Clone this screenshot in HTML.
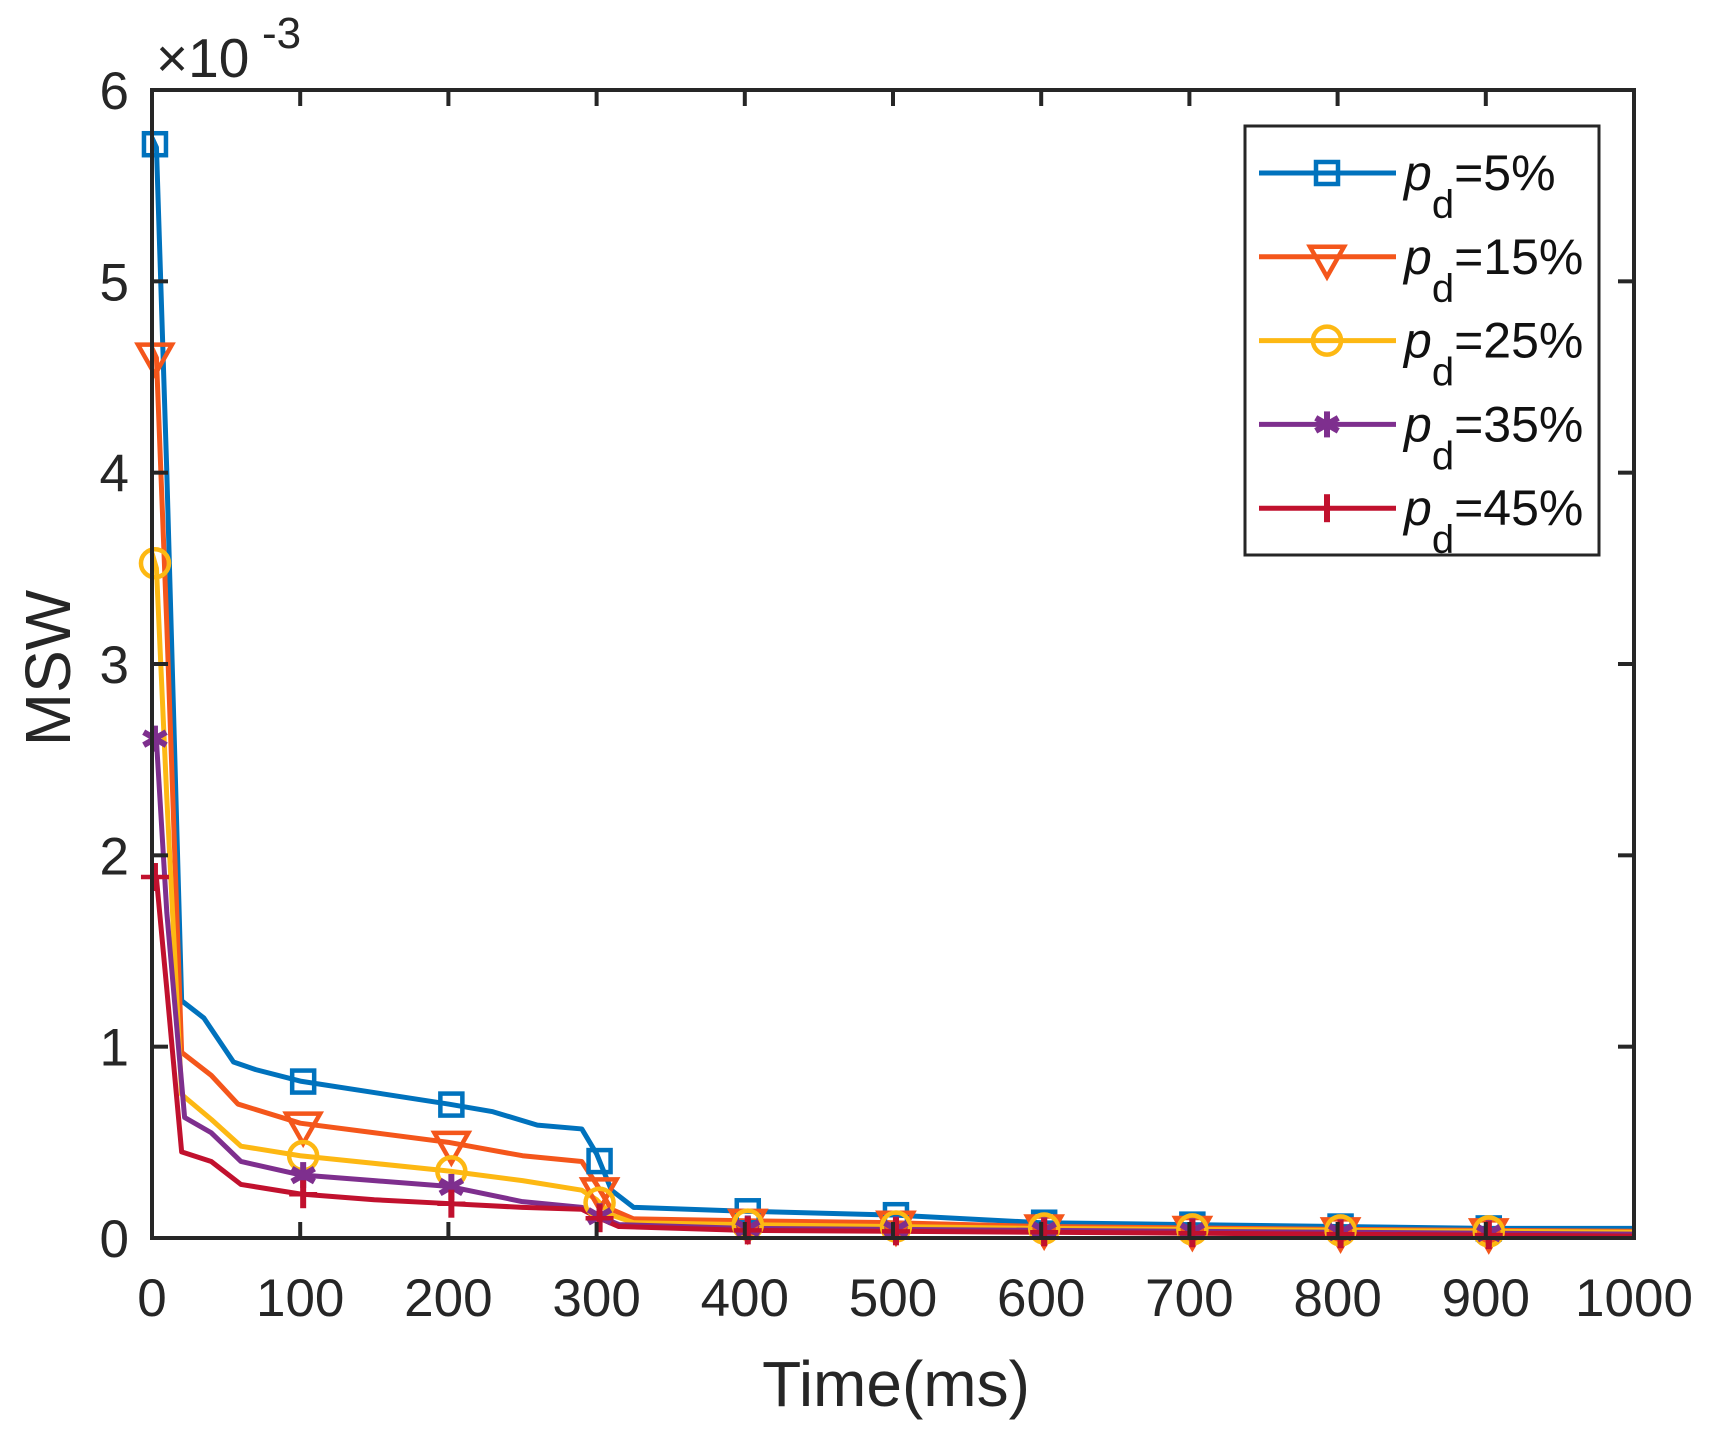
<!DOCTYPE html>
<html><head><meta charset="utf-8"><style>
html,body{margin:0;padding:0;background:#fff;}
svg{display:block;font-family:"Liberation Sans",Arial,sans-serif;}
</style></head><body>
<svg id="s" width="1709" height="1431" viewBox="0 0 1709 1431" xmlns="http://www.w3.org/2000/svg">
<rect width="1709" height="1431" fill="#fff"/>
<g id="plot"></g>
<g id="axes" fill="none" stroke="#262626" stroke-width="4"></g>
<g id="labels" fill="#262626" font-size="53"></g>
<text x="156" y="77" font-size="55" fill="#262626">×10</text>
<text x="262" y="48" font-size="44" fill="#262626">-3</text>
<text x="896" y="1406" font-size="64" fill="#262626" text-anchor="middle">Time(ms)</text>
<text transform="translate(70,668) rotate(-90)" font-size="64" fill="#262626" text-anchor="middle">MSW</text>
<rect x="1245" y="126" width="354" height="429" fill="#fff" stroke="#262626" stroke-width="3"/>
<g id="leg"></g>
</svg>
<script>
const L=152,R=1634,T=90,B=1238;
const X=v=>L+(R-L)*v/1000, Y=v=>B-(B-T)*v/6;
const ns="http://www.w3.org/2000/svg";
function el(t,a,p){const e=document.createElementNS(ns,t);for(const k in a)e.setAttribute(k,a[k]);(p||document.getElementById('plot')).appendChild(e);return e;}
const series=[
 {c:"#0072BD",m:"sq",d:[[0,5.75],[3,5.7],[10,4.0],[20,1.24],[35,1.15],[55,0.92],[70,0.88],[100,0.82],[150,0.76],[200,0.70],[230,0.66],[260,0.59],[290,0.57],[300,0.44],[310,0.25],[325,0.16],[400,0.14],[500,0.12],[600,0.08],[700,0.07],[800,0.06],[900,0.05],[1000,0.05]]},
 {c:"#F4561B",m:"tri",d:[[0,4.65],[3,4.6],[10,3.2],[20,0.97],[40,0.85],[58,0.70],[100,0.60],[150,0.55],[200,0.50],[250,0.43],[290,0.40],[300,0.28],[310,0.15],[325,0.10],[400,0.09],[500,0.08],[600,0.06],[800,0.045],[1000,0.035]]},
 {c:"#FDB813",m:"circ",d:[[0,3.58],[3,3.5],[10,2.3],[20,0.75],[40,0.62],[60,0.48],[100,0.43],[150,0.39],[200,0.35],[250,0.30],[290,0.25],[300,0.20],[310,0.12],[325,0.08],[400,0.07],[600,0.05],[1000,0.03]]},
 {c:"#7E2F8E",m:"star",d:[[0,2.63],[3,2.6],[10,1.7],[22,0.63],[40,0.55],[60,0.40],[100,0.33],[150,0.30],[200,0.27],[250,0.19],[290,0.16],[300,0.12],[315,0.07],[400,0.05],[600,0.04],[1000,0.02]]},
 {c:"#C1112E",m:"plus",d:[[0,1.9],[3,1.88],[10,1.3],[20,0.45],[40,0.40],[60,0.28],[100,0.23],[150,0.20],[200,0.18],[250,0.16],[290,0.15],[300,0.11],[315,0.06],[400,0.04],[600,0.03],[1000,0.01]]}
];
function interp(d,x){for(let i=0;i<d.length-1;i++){if(x>=d[i][0]&&x<=d[i+1][0]){const t=(x-d[i][0])/(d[i+1][0]-d[i][0]);return d[i][1]+t*(d[i+1][1]-d[i][1]);}}return d[d.length-1][1];}
function marker(m,cx,cy,c,g){
 const w=4.5;
 if(m=="sq")el("rect",{x:cx-11,y:cy-11,width:22,height:22,fill:"none",stroke:c,"stroke-width":w},g);
 if(m=="tri")el("polygon",{points:`${cx-17},${cy-10} ${cx+17},${cy-10} ${cx},${cy+20}`,fill:"none",stroke:c,"stroke-width":w},g);
 if(m=="circ")el("circle",{cx:cx,cy:cy,r:14,fill:"none",stroke:c,"stroke-width":w},g);
 if(m=="star"){for(const a of [0,60,120])el("line",{x1:cx,y1:cy-13,x2:cx,y2:cy+13,stroke:c,"stroke-width":6,transform:`rotate(${a} ${cx} ${cy})`},g);}
 if(m=="plus"){el("line",{x1:cx,y1:cy-14,x2:cx,y2:cy+14,stroke:c,"stroke-width":6},g);el("line",{x1:cx-14,y1:cy,x2:cx+14,y2:cy,stroke:c,"stroke-width":4.5},g);}
}
const plot=document.getElementById('plot');
series.forEach(s=>{
 el("polyline",{points:s.d.map(p=>X(p[0])+","+Y(p[1])).join(" "),fill:"none",stroke:s.c,"stroke-width":5,"stroke-linejoin":"round"});
});
series.forEach(s=>{
 for(let x=0;x<=900;x+=100){const xx=x==0?2:x+2;marker(s.m,X(xx),Y(interp(s.d,xx)),s.c,plot);}
});
const ax=document.getElementById('axes');
el("rect",{x:L,y:T,width:R-L,height:B-T},ax);
const lab=document.getElementById('labels');
for(let i=0;i<=10;i++){const x=X(i*100);
 if(i>0&&i<10){el("line",{x1:x,y1:B,x2:x,y2:B-16},ax);el("line",{x1:x,y1:T,x2:x,y2:T+16},ax);}
 const t=el("text",{x:x,y:1316,"text-anchor":"middle"},lab);t.textContent=i*100;}
for(let j=0;j<=6;j++){const y=Y(j);
 if(j>0&&j<6){el("line",{x1:L,y1:y,x2:L+16,y2:y},ax);el("line",{x1:R,y1:y,x2:R-16,y2:y},ax);}
 const t=el("text",{x:129,y:y+19,"text-anchor":"end"},lab);t.textContent=j;}
const leg=document.getElementById('leg');
const names=["5%","15%","25%","35%","45%"];
series.forEach((s,i)=>{const y=173+i*83.8;
 el("line",{x1:1259,y1:y,x2:1396,y2:y,stroke:s.c,"stroke-width":5},leg);
 marker(s.m,1327,y,s.c,leg);
 const t=el("text",{x:1404,y:y+17,"font-size":50,fill:"#111"},leg);
 t.innerHTML='<tspan font-style="italic">p</tspan><tspan font-size="40" dy="28">d</tspan><tspan dy="-28">='+names[i]+'</tspan>';
});
</script>
</body></html>
